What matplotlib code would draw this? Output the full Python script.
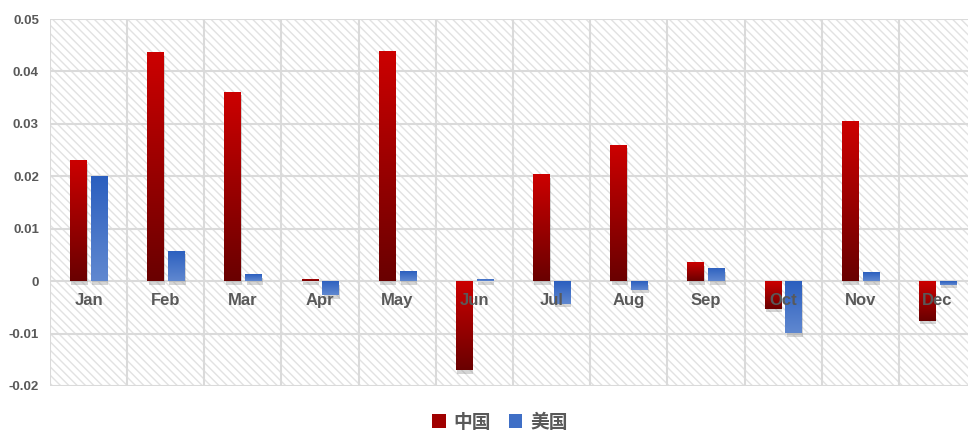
import numpy as np
import matplotlib
matplotlib.use("Agg")
import matplotlib.pyplot as plt
import matplotlib.patheffects as pe
from matplotlib.patches import Patch, Rectangle
from matplotlib.colors import to_rgb

# data
months = ["Jan", "Feb", "Mar", "Apr", "May", "Jun", "Jul", "Aug", "Sep", "Oct", "Nov", "Dec"]
china = [0.0231, 0.0437, 0.0361, 0.0005, 0.0439, -0.0170, 0.0204, 0.0260, 0.0036, -0.0053, 0.0305, -0.0076]
usa = [0.0201, 0.0058, 0.0013, -0.0027, 0.0019, 0.0005, -0.0043, -0.0016, 0.0025, -0.0099, 0.0017, -0.0007]
series_names = ["中国", "美国"]
yticks = [-0.02, -0.01, 0, 0.01, 0.02, 0.03, 0.04, 0.05]
ytick_labels = ["-0.02", "-0.01", "0", "0.01", "0.02", "0.03", "0.04", "0.05"]

grey = "#595959"
red_top, red_bot = "#cc0000", "#6a0000"
blue_top, blue_bot = "#2b5fbf", "#6088d0"

plt.rcParams["hatch.linewidth"] = 1.0

fig = plt.figure(figsize=(9.68, 4.32), dpi=100)
ax = fig.add_axes([50 / 968, 46 / 432, 926 / 968, 367 / 432])

x = np.arange(len(months))
w = 0.21
off = 0.135

# hatched background
ax.add_patch(Rectangle((0, 0), 1, 1, transform=ax.transAxes, facecolor="white",
                       edgecolor="#e2e2e2", hatch="\\\\\\\\", linewidth=0, zorder=0))


def gradient_bars(bars, c_top, c_bot):
    # paint each bar with a vertical gradient, bright at top, dark at bottom
    t = np.array(to_rgb(c_top))
    b = np.array(to_rgb(c_bot))
    grad = np.linspace(0, 1, 64)[:, None, None]
    img = t * (1 - grad) + b * grad
    for bar in bars:
        bx, by = bar.get_x(), bar.get_y()
        bw, bh = bar.get_width(), bar.get_height()
        y0, y1 = min(by, by + bh), max(by, by + bh)
        im = ax.imshow(img, extent=[bx, bx + bw, y0, y1], origin="upper",
                       aspect="auto", zorder=4, interpolation="bilinear")
        im.set_clip_path(bar)


shadow = [pe.SimplePatchShadow(offset=(1, -2.5), shadow_rgbFace="#777777", alpha=0.3), pe.Normal()]
b1 = ax.bar(x - off, china, w, color=red_top, zorder=3, path_effects=shadow)
b2 = ax.bar(x + off, usa, w, color=blue_top, zorder=3, path_effects=shadow)
gradient_bars(b1, red_top, red_bot)
gradient_bars(b2, blue_top, blue_bot)

ax.set_xlim(-0.5, len(months) - 0.5)
ax.set_ylim(-0.02, 0.05)
ax.set_yticks(yticks)
ax.set_yticklabels(ytick_labels, fontsize=9.5, fontweight="bold", color=grey, family="Liberation Sans")
ax.set_xticks(x + 0.5, minor=True)
ax.set_xticks([])
ax.grid(True, axis="y", which="major", color="#dadada", linewidth=1.5, zorder=1)
ax.grid(True, axis="x", which="minor", color="#dadada", linewidth=1.5, zorder=1)
ax.set_axisbelow(True)
ax.tick_params(axis="both", which="both", length=0)
ax.tick_params(axis="y", pad=8)
for s in ax.spines.values():
    s.set_visible(False)
ax.axhline(-0.02, color="#dadada", linewidth=2, zorder=1)
ax.axvline(-0.5, color="#dadada", linewidth=1.5, zorder=1)

# month labels sit just under zero line, inside the plot
for i, m in enumerate(months):
    ax.text(i, -0.0037, m, ha="center", va="center", fontsize=12, fontweight="bold",
            color=grey, family="Liberation Sans", zorder=5)

handles = [Patch(facecolor="#a00000", edgecolor="none"), Patch(facecolor="#3f6fc6", edgecolor="none")]
fig.legend(handles, series_names, loc="center", bbox_to_anchor=(500 / 968, 1 - 422 / 432),
           ncol=2, frameon=False, handlelength=0.7, handleheight=0.7, handletextpad=0.4,
           columnspacing=1.0,
           prop={"family": ["Noto Sans CJK SC", "DejaVu Sans"], "weight": "bold", "size": 13.5})
for t in fig.legends[0].get_texts():
    t.set_color(grey)

fig.savefig("out.png", dpi=100)
